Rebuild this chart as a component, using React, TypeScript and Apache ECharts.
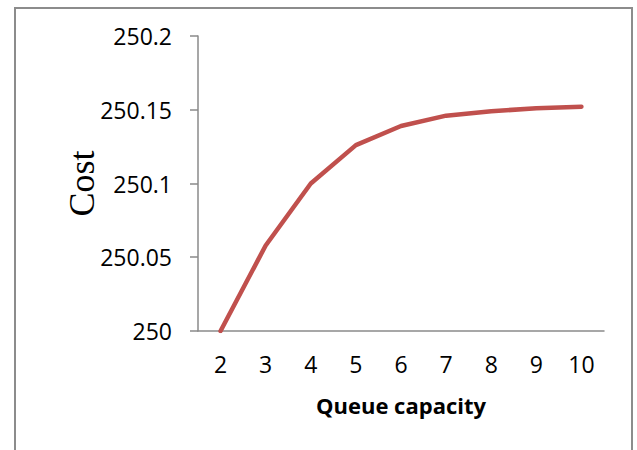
import React, { useEffect, useRef } from "react";
import * as echarts from "echarts";

const categories = ["2", "3", "4", "5", "6", "7", "8", "9", "10"];
const costValues = [250.0, 250.058, 250.1, 250.126, 250.139, 250.146, 250.149, 250.151, 250.152];
const yTicks = { min: 250, max: 250.2, interval: 0.05 };
const xAxisName = "Queue capacity";
const yAxisName = "Cost";

export default function App() {
  const ref = useRef<HTMLDivElement>(null);
  useEffect(() => {
    if (!ref.current) return;
    const chart = echarts.init(ref.current, null, { renderer: "svg" });
    const labelFont = '"Open Sans", "Liberation Sans", sans-serif';
    chart.setOption({
      animation: false,
      backgroundColor: "#ffffff",
      graphic: [
        {
          type: "rect",
          shape: { x: 15, y: 8, width: 617, height: 460 },
          style: { fill: "none", stroke: "#8c8c8c", lineWidth: 2 },
          silent: true,
        },
      ],
      grid: { left: 198, right: 33, top: 36, bottom: 119, containLabel: false },
      xAxis: {
        type: "category",
        data: categories,
        boundaryGap: true,
        name: xAxisName,
        nameLocation: "middle",
        nameGap: 63,
        nameMoveOverlap: false,
        nameTextStyle: { fontFamily: labelFont, fontWeight: "bold", fontSize: 22, color: "#000" },
        axisLine: { lineStyle: { color: "#8a8a8a", width: 1.5 } },
        axisTick: { show: false },
        axisLabel: { fontFamily: labelFont, fontSize: 23, color: "#000", margin: 21 },
        splitLine: { show: false },
      },
      yAxis: {
        type: "value",
        min: yTicks.min,
        max: yTicks.max,
        interval: yTicks.interval,
        name: yAxisName,
        nameLocation: "middle",
        nameRotate: 90,
        nameGap: 98,
        nameMoveOverlap: false,
        nameTextStyle: { fontFamily: '"Liberation Serif", serif', fontSize: 36, color: "#000" },
        axisLine: { show: true, lineStyle: { color: "#8a8a8a", width: 1.5 } },
        axisTick: { show: true, inside: false, length: 8, lineStyle: { color: "#8a8a8a", width: 1.5 } },
        axisLabel: {
          fontFamily: labelFont,
          fontSize: 23,
          color: "#000",
          margin: 26,
          formatter: (v: number) => String(parseFloat(v.toFixed(2))),
        },
        splitLine: { show: false },
      },
      series: [
        {
          type: "line",
          data: costValues,
          showSymbol: false,
          symbol: "none",
          lineStyle: { color: "#C0504D", width: 4.5, cap: "round", join: "round" },
          itemStyle: { color: "#C0504D" },
        },
      ],
    });
    return () => chart.dispose();
  }, []);
  return (
    <div
      ref={ref}
      style={{ position: "absolute", left: 0, top: 0, width: 637, height: 450 }}
    />
  );
}
